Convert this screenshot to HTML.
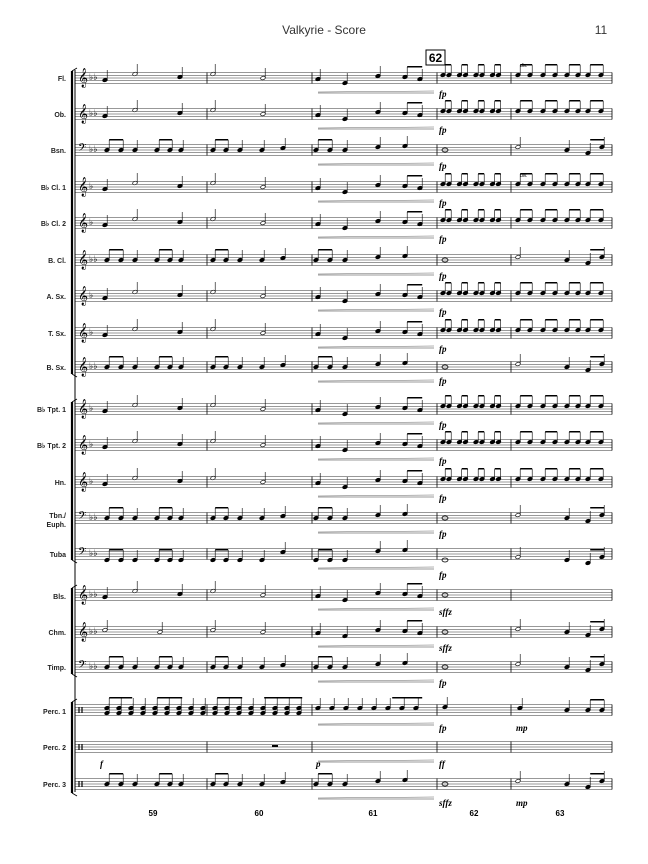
<!DOCTYPE html>
<html><head><meta charset="utf-8"><style>
html,body{margin:0;padding:0;background:#fff;}
svg{display:block;font-family:"Liberation Sans",sans-serif;}
.lb{font-size:7px;font-weight:bold;text-anchor:end;fill:#222}
.fp{font-family:"Liberation Serif",serif;font-style:italic;font-weight:bold;font-size:9px}
.mn{font-size:8px;font-weight:bold;text-anchor:middle}
</style></head><body>
<svg id="s" width="648" height="864" viewBox="0 0 648 864" xmlns="http://www.w3.org/2000/svg">
<rect width="648" height="864" fill="#fff"/>
<text x="324" y="34" font-size="12" text-anchor="middle" fill="#333">Valkyrie - Score</text>
<text x="601" y="34" font-size="12" text-anchor="middle" fill="#333">11</text>
<rect x="426" y="50" width="19" height="15" fill="none" stroke="#000" stroke-width="1"/>
<text x="435.5" y="62" font-size="12" font-weight="bold" text-anchor="middle">62</text>
<text x="520" y="67" font-size="5">div.</text>
<text x="520" y="177" font-size="5">div.</text>
<g id="lbls">
<text class="lb" x="66" y="81">Fl.</text>
<text class="lb" x="66" y="117">Ob.</text>
<text class="lb" x="66" y="153">Bsn.</text>
<text class="lb" x="66" y="190">B♭ Cl. 1</text>
<text class="lb" x="66" y="226">B♭ Cl. 2</text>
<text class="lb" x="66" y="263">B. Cl.</text>
<text class="lb" x="66" y="299">A. Sx.</text>
<text class="lb" x="66" y="336">T. Sx.</text>
<text class="lb" x="66" y="370">B. Sx.</text>
<text class="lb" x="66" y="412">B♭ Tpt. 1</text>
<text class="lb" x="66" y="448">B♭ Tpt. 2</text>
<text class="lb" x="66" y="485">Hn.</text>
<text class="lb" x="66" y="518">Tbn./</text>
<text class="lb" x="66" y="527">Euph.</text>
<text class="lb" x="66" y="557">Tuba</text>
<text class="lb" x="66" y="599">Bls.</text>
<text class="lb" x="66" y="635">Chm.</text>
<text class="lb" x="66" y="670">Timp.</text>
<text class="lb" x="66" y="714">Perc. 1</text>
<text class="lb" x="66" y="750">Perc. 2</text>
<text class="lb" x="66" y="787">Perc. 3</text>
</g>
<g class="fp">
<text x="439" y="97">fp</text><text x="439" y="133">fp</text><text x="439" y="169">fp</text>
<text x="439" y="206">fp</text><text x="439" y="242">fp</text><text x="439" y="279">fp</text>
<text x="439" y="315">fp</text><text x="439" y="352">fp</text><text x="439" y="384">fp</text>
<text x="439" y="428">fp</text><text x="439" y="464">fp</text><text x="439" y="501">fp</text>
<text x="439" y="537">fp</text><text x="439" y="578">fp</text><text x="439" y="615">sffz</text>
<text x="439" y="651">sffz</text><text x="439" y="686">fp</text><text x="439" y="731">fp</text>
<text x="439" y="767">ff</text><text x="439" y="806">sffz</text>
<text x="100" y="767">f</text><text x="316" y="767">p</text>
<text x="516" y="731">mp</text><text x="516" y="806">mp</text>
</g>
<text class="mn" x="153" y="816">59</text>
<text class="mn" x="259" y="816">60</text>
<text class="mn" x="373" y="816">61</text>
<text class="mn" x="474" y="816">62</text>
<text class="mn" x="560" y="816">63</text>
<g id="g"></g>
</svg>
<script>
var C=[78,114,150,187,223,260,296,333,367,409,445,482,518,554,595,632,667,710,747,784];
var T=['m','m','e','m','m','e','m','m','e','m','m','h','e','t','b','c','e','p','r','q'];
var bass={2:1,12:1,13:1,16:1};
var g=document.getElementById('g'),o='',sp=2.75;
function L(x1,y1,x2,y2,w,c){o+='<line x1="'+x1+'" y1="'+y1+'" x2="'+x2+'" y2="'+y2+'" stroke="'+(c||'#000')+'" stroke-width="'+(w||0.6)+'"/>';}
function N(x,y,open){o+='<ellipse cx="'+x+'" cy="'+y+'" rx="2.4" ry="1.7" transform="rotate(-20 '+x+' '+y+')" fill="'+(open?'#fff':'#000')+'" stroke="#000" stroke-width="0.7"/>';L(x+2.2,y,x+2.2,y-10,0.6);}
function B(x1,x2,y){o+='<rect x="'+(x1+2.2)+'" y="'+(y-11)+'" width="'+(x2-x1)+'" height="1.5"/>';}
var bars=[207,312,437,511,612];
C.forEach(function(c,i){
 var top=c-2*sp,t=T[i],perc=(t=='p'||t=='r'||t=='q');
 for(var k=0;k<5;k++)L(75,top+k*sp,612,top+k*sp,0.5,'#333');
 bars.forEach(function(b){L(b,top,b,top+4*sp,0.8);});
 if(perc){L(79,c-3,79,c+3,1.2);L(82,c-3,82,c+3,1.2);}
 else{
  o+='<text x="78" y="'+(c+(bass[i]?3:5))+'" font-size="'+(bass[i]?13:17)+'" font-family="DejaVu Sans">'+(bass[i]?'𝄢':'𝄞')+'</text>';
  o+='<text x="89" y="'+(c+2)+'" font-size="9">♭'+(i<3||i>=12||i==5||i==8?'♭':'')+'</text>';
 }
 if(t=='m'||t=='h'||t=='b'){
  N(105,c+2,0);N(135,c-4,1);N(180,c-1,0);N(213,c-4,1);N(263,c,1);
  N(318,c+1,0);N(345,c+5,0);N(378,c-2,0);N(405,c-1,0);N(420,c+1,0);B(405,420,c-1);
 }else if(t=='c'){
  N(105,c-2,1);N(160,c,1);N(213,c-2,1);N(263,c,1);
  N(318,c+1,0);N(345,c+4,0);N(378,c-2,0);N(405,c-1,0);N(420,c+1,0);B(405,420,c-1);
 }else if(t=='e'||t=='t'||t=='q'){
  var d=t=='t'?6:0;
  [[107,121],[157,170],[213,226],[316,330]].forEach(function(p){N(p[0],c+d,0);N(p[1],c+d,0);B(p[0],p[1],c+d);});
  [135,181,240,262,345].forEach(function(x){N(x,c+d,0);});N(283,c-2,0);N(378,c-3,0);N(405,c-4,0);
 }else if(t=='p'){
  for(var x=107;x<205;x+=12){N(x,c-2,0);N(x,c+3,0);}B(107,130,c-2);B(155,180,c-2);
  for(var x=215;x<305;x+=12){N(x,c-2,0);N(x,c+3,0);}B(215,240,c-2);B(262,300,c-2);
  for(var x=318;x<430;x+=14){N(x,c-2,0);}B(390,420,c-2);
 }else if(t=='r'){
  o+='<rect x="272" y="'+(c-2)+'" width="6" height="2"/>';
 }
 if(t=='m'||t=='h'){
  for(var j=0;j<4;j++){var x=443+j*16.5;N(x,c-3,0);N(x+6,c-3,0);B(x,x+6,c-3);}
  [[518,530],[543,555],[567,578],[588,601]].forEach(function(p){N(p[0],c-3,0);N(p[1],c-3,0);B(p[0],p[1],c-3);});
 }else if(t=='b'){
  o+='<ellipse cx="445" cy="'+c+'" rx="3" ry="2" fill="none" stroke="#000" stroke-width="0.8"/>';
 }else if(t=='e'||t=='t'||t=='c'||t=='q'){
  var d=t=='t'?6:0;
  o+='<ellipse cx="445" cy="'+(c+d)+'" rx="3" ry="2" fill="none" stroke="#000" stroke-width="0.8"/>';
  N(518,c-3+d,1);N(567,c+d,0);N(588,c+3+d,0);N(602,c-3+d,0);B(588,602,c+d);
 }else if(t=='p'){N(445,c-3,0);N(520,c-2,0);N(567,c,0);N(588,c,0);N(602,c,0);B(588,602,c);}
 L(318,c+15,434,c+15,1,'#999');L(318,c+14,434,c+13,0.5,'#666');
});
L(75,70,75,792,1);
[[72,373],[403,559],[589,673],[703,792]].forEach(function(r){L(72,r[0]-1,72,r[1]+1,2.2);L(72,r[0]-1,77,r[0]-4,0.8);L(72,r[1]+1,77,r[1]+4,0.8);});
g.innerHTML=o;
</script>
</body></html>
